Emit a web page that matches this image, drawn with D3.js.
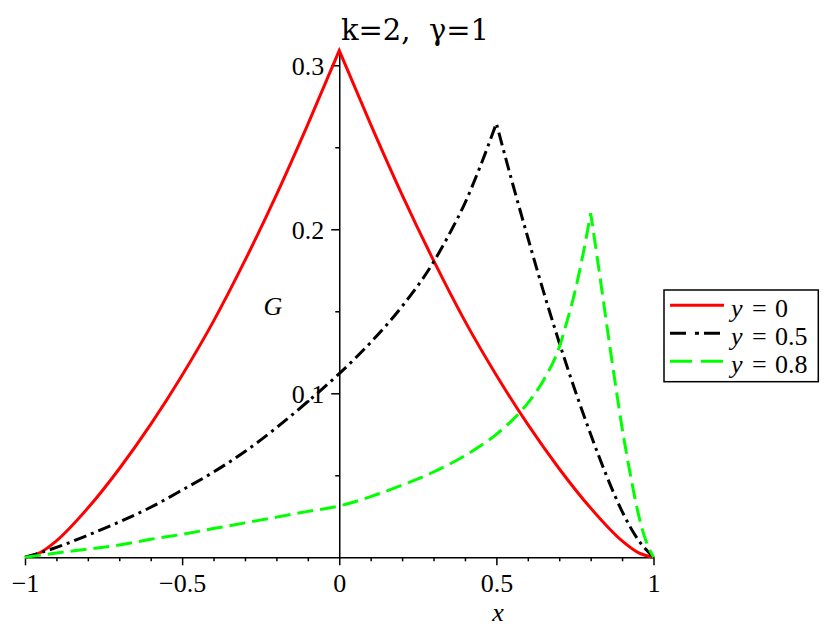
<!DOCTYPE html>
<html>
<head>
<meta charset="utf-8">
<script src="https://cdn.jsdelivr.net/npm/d3@7"></script>
<style>
  body { margin: 0; background: #fff; }
</style>
</head>
<body>
<div class="chart"></div>
<script>
// values
const redX = [-1, -0.95, -0.9, -0.8, -0.7, -0.6, -0.5, -0.4, -0.3, -0.2, -0.1, 0, 0.1, 0.2, 0.3, 0.4, 0.5, 0.6, 0.7, 0.8, 0.9, 0.95, 1];
const redG = [0, 0.003, 0.01, 0.03, 0.054, 0.081, 0.111, 0.144, 0.181, 0.221, 0.264, 0.309, 0.264, 0.221, 0.181, 0.144, 0.111, 0.081, 0.054, 0.03, 0.01, 0.003, 0];

const blackX = [-1, -0.9, -0.8, -0.7, -0.6, -0.5, -0.4, -0.3, -0.2, -0.1, 0, 0.1, 0.2, 0.3, 0.35, 0.4, 0.45, 0.5, 0.55, 0.6, 0.65, 0.7, 0.75, 0.8, 0.85, 0.9, 0.95, 1];
const blackG = [0, 0.006, 0.0135, 0.0215, 0.0305, 0.041, 0.052, 0.0645, 0.079, 0.095, 0.112, 0.131, 0.153, 0.18, 0.197, 0.216, 0.239, 0.2646, 0.229, 0.195, 0.162, 0.131, 0.102, 0.075, 0.05, 0.028, 0.011, 0];

const greenX = [-1, -0.9, -0.8, -0.7, -0.6, -0.5, -0.4, -0.3, -0.2, -0.1, 0, 0.1, 0.2, 0.3, 0.4, 0.5, 0.55, 0.6, 0.65, 0.7, 0.725, 0.75, 0.775, 0.8, 0.82, 0.84, 0.86, 0.88, 0.9, 0.92, 0.94, 0.96, 0.98, 1];
const greenG = [0, 0.0026, 0.005, 0.0075, 0.011, 0.014, 0.0175, 0.021, 0.0245, 0.028, 0.0313, 0.037, 0.044, 0.052, 0.062, 0.075, 0.0835, 0.094, 0.108, 0.128, 0.144, 0.162, 0.184, 0.2098, 0.184, 0.157, 0.13, 0.104, 0.079, 0.057, 0.037, 0.02, 0.008, 0];

const seriesNames = ["0", "0.5", "0.8"];
const xTicks = [-1, -0.5, 0, 0.5, 1];
const xTickLabels = ["\u22121", "\u22120.5", "0", "0.5", "1"];
const xMinorTicks = [-0.9, -0.8, -0.7, -0.6, -0.4, -0.3, -0.2, -0.1, 0.1, 0.2, 0.3, 0.4, 0.6, 0.7, 0.8, 0.9];
const yTicks = [0.1, 0.2, 0.3];
const yTickLabels = ["0.1", "0.2", "0.3"];
const yMinorTicks = [0.05, 0.15, 0.25];

const svgWidth = 830;
const svgHeight = 636;
const serifFont = "Liberation Serif";

const svg = d3
  .select(".chart")
  .append("svg")
  .attr("width", svgWidth)
  .attr("height", svgHeight);

// scales
const xScale = d3.scaleLinear().domain([-1, 1]).range([25, 653.5]);
const yScale = d3.scaleLinear().domain([0, 0.309]).range([557.3, 50.5]);

function styleAxis(g) {
  g.attr("font-family", serifFont).attr("font-size", 26);
  g.selectAll("line, path").attr("stroke", "#000").attr("stroke-width", 1.5);
  g.selectAll("text").attr("fill", "#000");
}

// x axis minor ticks
svg
  .append("g")
  .attr("transform", "translate(0," + yScale(0) + ")")
  .call(d3.axisBottom(xScale).tickValues(xMinorTicks).tickSize(4).tickSizeOuter(0).tickFormat(""))
  .call(styleAxis)
  .select(".domain")
  .remove();

// x axis major ticks
svg
  .append("g")
  .attr("transform", "translate(0," + yScale(0) + ")")
  .call(
    d3.axisBottom(xScale)
      .tickValues(xTicks)
      .tickSize(8)
      .tickSizeOuter(0)
      .tickFormat((d, i) => xTickLabels[i])
  )
  .call(styleAxis)
  .selectAll("text")
  .attr("dy", null)
  .attr("y", 34.5);

// y axis minor ticks
svg
  .append("g")
  .attr("transform", "translate(" + xScale(0) + ",0)")
  .call(d3.axisLeft(yScale).tickValues(yMinorTicks).tickSize(4).tickSizeOuter(0).tickFormat(""))
  .call(styleAxis)
  .select(".domain")
  .remove();

// y axis major ticks
svg
  .append("g")
  .attr("transform", "translate(" + xScale(0) + ",0)")
  .call(
    d3.axisLeft(yScale)
      .tickValues(yTicks)
      .tickSize(8)
      .tickSizeOuter(0)
      .tickFormat((d, i) => yTickLabels[i])
  )
  .call(styleAxis)
  .selectAll("text")
  .attr("x", -15)
  .attr("dy", "0.37em");

// curves: each side of the peak is drawn separately so the cusp stays sharp
const series = [
  { xs: redX, gs: redG, color: "#ff0000", dash: null, legendDash: null },
  { xs: blackX, gs: blackG, color: "#000000", dash: "13,5,3,5", legendDash: "16,9,4,5" },
  { xs: greenX, gs: greenG, color: "#00ff00", dash: "16,7", legendDash: "22,9" }
];

const line = d3
  .line()
  .x(d => xScale(d[0]))
  .y(d => yScale(d[1]))
  .curve(d3.curveMonotoneX);

series.forEach(s => {
  const pts = s.xs.map((v, j) => [v, s.gs[j]]);
  const peak = d3.maxIndex(s.gs);
  const path = line(pts.slice(0, peak + 1)) + line(pts.slice(peak)).replace(/^M/, "L");
  svg
    .append("path")
    .attr("d", path)
    .attr("fill", "none")
    .attr("stroke", s.color)
    .attr("stroke-width", 3)
    .attr("stroke-dasharray", s.dash);
});

// title
svg
  .append("text")
  .attr("x", 415)
  .attr("y", 40)
  .attr("text-anchor", "middle")
  .attr("font-family", "DejaVu Serif")
  .attr("font-size", 29)
  .style("white-space", "pre")
  .text("k=2,  \u03b3=1");

// axis labels
svg
  .append("text")
  .attr("x", 273)
  .attr("y", 315)
  .attr("text-anchor", "middle")
  .attr("font-family", serifFont)
  .attr("font-style", "italic")
  .attr("font-size", 26)
  .text("G");

svg
  .append("text")
  .attr("x", 498)
  .attr("y", 621)
  .attr("text-anchor", "middle")
  .attr("font-family", serifFont)
  .attr("font-style", "italic")
  .attr("font-size", 26)
  .text("x");

// legend
const legend = svg.append("g");
legend
  .append("rect")
  .attr("x", 664)
  .attr("y", 290)
  .attr("width", 154.3)
  .attr("height", 91.7)
  .attr("fill", "#fff")
  .attr("stroke", "#000")
  .attr("stroke-width", 1.5);

const rowBase = [317.3, 345.3, 373.3];
series.forEach((s, i) => {
  legend
    .append("line")
    .attr("x1", 670)
    .attr("x2", 724)
    .attr("y1", rowBase[i] - 12)
    .attr("y2", rowBase[i] - 12)
    .attr("stroke", s.color)
    .attr("stroke-width", 3)
    .attr("stroke-dasharray", s.legendDash);
  const t = legend
    .append("text")
    .attr("y", rowBase[i])
    .attr("font-family", serifFont)
    .attr("font-size", 26);
  t.append("tspan").attr("x", 731).attr("font-style", "italic").text("y");
  t.append("tspan").attr("x", 752).text("=");
  t.append("tspan").attr("x", 775).text(seriesNames[i]);
});
</script>
</body>
</html>
